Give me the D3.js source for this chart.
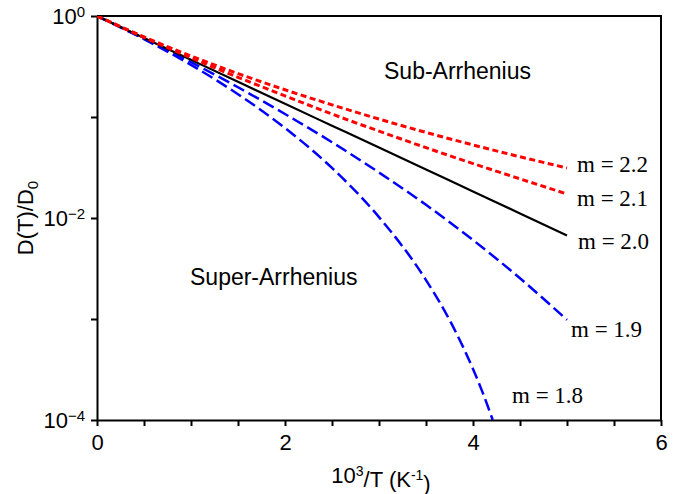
<!DOCTYPE html>
<html>
<head>
<meta charset="utf-8">
<script src="https://cdn.jsdelivr.net/npm/d3@7"></script>
<style>
  body { margin: 0; background: #fff; }
  svg { display: block; }
  .axis path, .axis line { stroke: #000; stroke-width: 2; }
  .axis text { font-family: "Liberation Sans", Arial, sans-serif; font-size: 22px; fill: #000; }
</style>
</head>
<body>
<svg id="chart" width="690" height="494"></svg>
<script>
// values: x = 10^3/T, y = D(T)/D0
var xs = [0, 0.5, 1, 1.5, 2, 2.5, 3, 3.5, 4, 4.5, 5];
var m22 = [1, 0.621, 0.402, 0.269, 0.186, 0.132, 0.0954, 0.0704, 0.0529, 0.0404, 0.0313];
var m21 = [1, 0.614, 0.386, 0.247, 0.162, 0.107, 0.0725, 0.0497, 0.0346, 0.0244, 0.0173];
var m20 = [1, 0.607, 0.368, 0.223, 0.135, 0.082, 0.0498, 0.0302, 0.0183, 0.0111, 0.0067];
var m19 = [1, 0.599, 0.349, 0.197, 0.107, 0.0563, 0.0282, 0.0135, 0.00605, 0.00253, 0.00098];
var xs18 = [0, 0.5, 1, 1.5, 2, 2.5, 3, 3.5, 3.75, 4, 4.1, 4.21];
var m18 = [1, 0.590, 0.328, 0.168, 0.0778, 0.0313, 0.0102, 0.00243, 0.00098, 0.00032, 0.00019, 0.0001];

var xTicks = [0, 0.5, 1, 1.5, 2, 2.5, 3, 3.5, 4, 4.5, 5, 5.5, 6];
var xLabels = [0, 2, 4, 6];
var yTicks = [1, 1e-1, 1e-2, 1e-3, 1e-4];
var yLabels = {1: '0', 0.01: '\u22122', 0.0001: '\u22124'};

var svg = d3.select('#chart'),
    pLeft = 97, pRight = 661, pTop = 16, pBottom = 420;

var x = d3.scaleLinear().domain([0, 6]).range([pLeft, pRight]);
var y = d3.scaleLog().domain([1e-4, 1]).range([pBottom, pTop]);

svg.append('clipPath').attr('id', 'clip')
   .append('rect').attr('x', pLeft).attr('y', pTop)
   .attr('width', pRight - pLeft).attr('height', pBottom - pTop);

// frame top / right
svg.append('path')
   .attr('d', 'M' + pLeft + ',' + pTop + 'H' + pRight + 'V' + pBottom)
   .attr('fill', 'none').attr('stroke', '#000').attr('stroke-width', 2);

var xAxis = svg.append('g').attr('class', 'axis')
   .attr('transform', 'translate(0,' + pBottom + ')')
   .call(d3.axisBottom(x).tickValues(xTicks).tickSize(6).tickSizeOuter(0)
     .tickFormat(d => xLabels.indexOf(d) >= 0 ? d : ''));
xAxis.selectAll('text').attr('y', 14).attr('dy', '0.71em');

var yAxis = svg.append('g').attr('class', 'axis')
   .attr('transform', 'translate(' + pLeft + ',0)')
   .call(d3.axisLeft(y).tickValues(yTicks).tickSize(6).tickSizeOuter(0).tickFormat(''));
yAxis.selectAll('.tick').each(function (d) {
  var key = Object.keys(yLabels).find(k => Math.abs(+k - d) < d * 1e-6);
  if (key === undefined) return;
  var t = d3.select(this).append('text')
     .attr('x', -12).attr('dy', '0.36em').attr('text-anchor', 'end');
  t.append('tspan').text('10');
  t.append('tspan').attr('dy', '-0.5em').attr('font-size', '15px').text(yLabels[key]);
});

var line = d3.line().x(d => x(d[0])).y(d => y(d[1])).curve(d3.curveMonotoneX);
var plot = svg.append('g').attr('clip-path', 'url(#clip)');

var series = [
  {xv: xs18, yv: m18, color: '#0000ff', dash: '12,5', w: 2.5},
  {xv: xs, yv: m19, color: '#0000ff', dash: '12,5', w: 2.5},
  {xv: xs, yv: m20, color: '#000', dash: null, w: 2.2},
  {xv: xs, yv: m21, color: '#ff0000', dash: '6,3.5', w: 3},
  {xv: xs, yv: m22, color: '#ff0000', dash: '6,3.5', w: 3}
];
plot.selectAll('path.curve').data(series).enter().append('path')
   .attr('class', 'curve')
   .attr('d', s => line(s.xv.map((v, i) => [v, s.yv[i]])))
   .attr('fill', 'none')
   .attr('stroke', s => s.color)
   .attr('stroke-width', s => s.w)
   .attr('stroke-dasharray', s => s.dash);

// curve labels
var curveLabels = [
  {t: 'm = 2.2', x: 577, y: 172},
  {t: 'm = 2.1', x: 577, y: 206},
  {t: 'm = 2.0', x: 578, y: 249},
  {t: 'm = 1.9', x: 571, y: 337},
  {t: 'm = 1.8', x: 512, y: 403}
];
svg.selectAll('text.mlab').data(curveLabels).enter().append('text')
   .attr('class', 'mlab')
   .attr('x', d => d.x).attr('y', d => d.y)
   .attr('font-family', '"Liberation Serif", "Times New Roman", serif')
   .attr('font-size', '23px')
   .text(d => d.t);

var sans = '"Liberation Sans", Arial, sans-serif';
svg.append('text').attr('x', 384).attr('y', 79)
   .attr('font-family', sans).attr('font-size', '23px').text('Sub-Arrhenius');
svg.append('text').attr('x', 190).attr('y', 285)
   .attr('font-family', sans).attr('font-size', '23px').text('Super-Arrhenius');

// axis titles
var xt = svg.append('text').attr('x', 381).attr('y', 483).attr('text-anchor', 'middle')
   .attr('font-family', sans).attr('font-size', '22px');
xt.append('tspan').text('10');
xt.append('tspan').attr('dy', '-0.5em').attr('font-size', '14px').text('3');
xt.append('tspan').attr('dy', '0.5em').text('/T (K');
xt.append('tspan').attr('dy', '-0.5em').attr('font-size', '14px').text('-1');
xt.append('tspan').attr('dy', '0.5em').text(')');

var yt = svg.append('text').attr('transform', 'translate(33,218) rotate(-90)')
   .attr('text-anchor', 'middle')
   .attr('font-family', sans).attr('font-size', '22px');
yt.append('tspan').text('D(T)/D');
yt.append('tspan').attr('dy', '0.3em').attr('font-size', '15px').text('0');
</script>
</body>
</html>
